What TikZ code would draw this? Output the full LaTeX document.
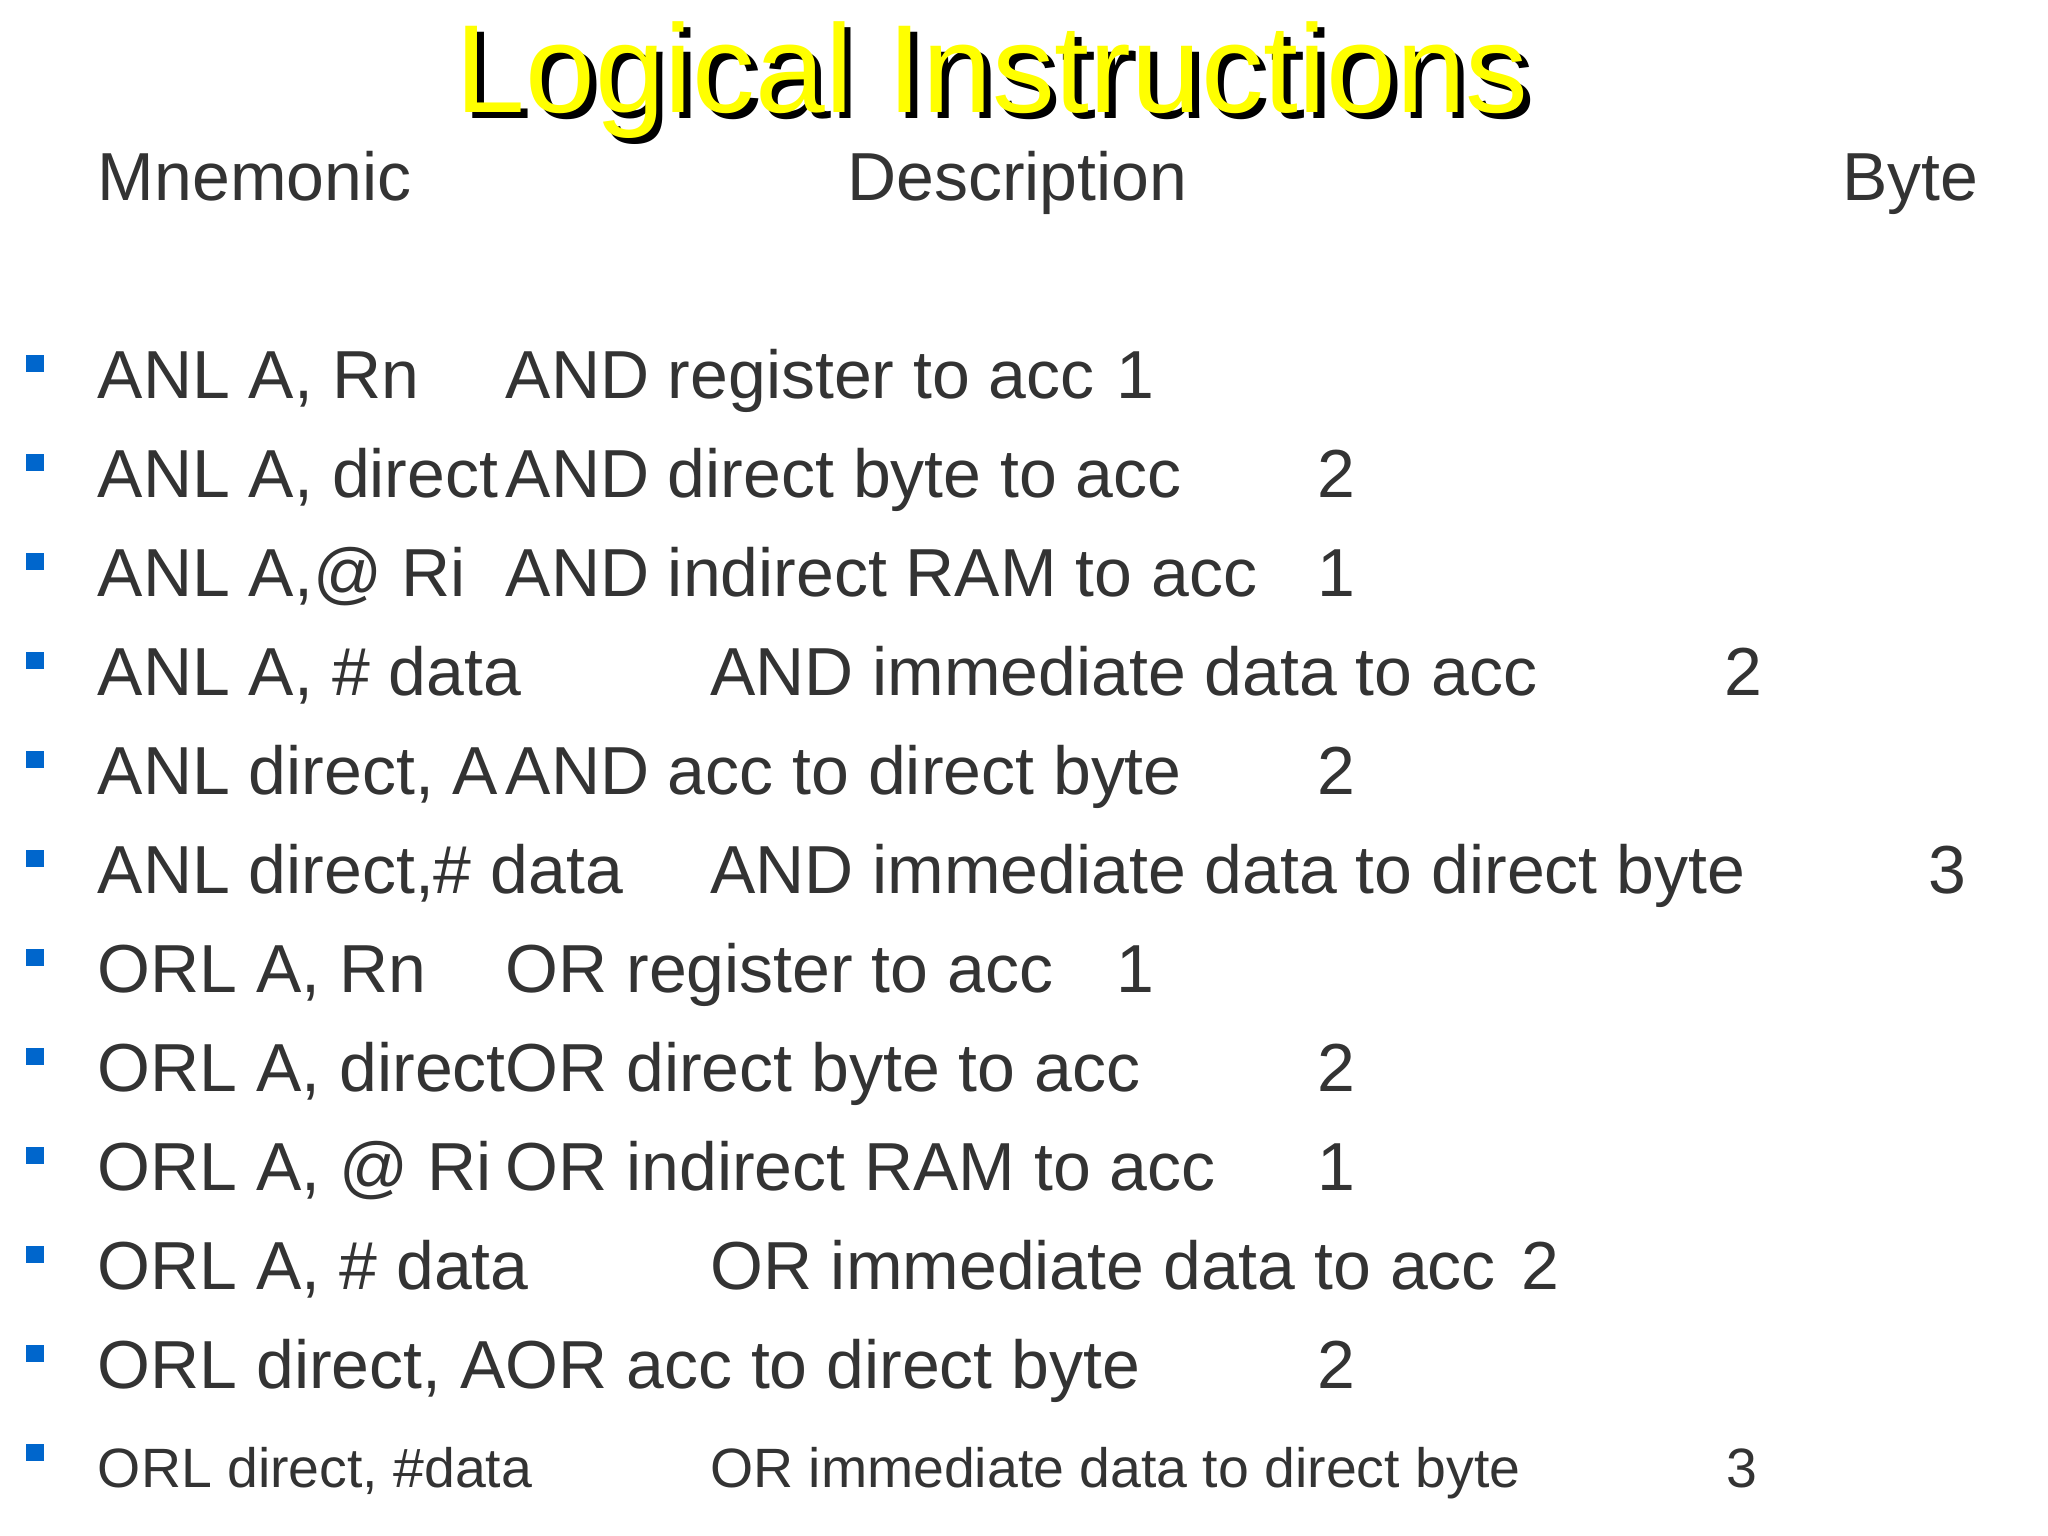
\documentclass[tikz,border=0pt]{standalone}
\usepackage{fontspec}
\setmainfont{Liberation Sans}
\definecolor{txt}{RGB}{51,51,51}
\definecolor{bul}{RGB}{0,102,204}
\definecolor{ttl}{RGB}{255,255,0}
\tikzset{
  row/.style={anchor=base west,inner sep=0pt,text=txt,font=\fontsize{51.5}{51.5}\selectfont},
  small/.style={anchor=base west,inner sep=0pt,text=txt,font=\fontsize{42}{42}\selectfont},
  bulletsq/.style={fill=bul,draw=none}
}
\begin{document}
\begin{tikzpicture}[x=1pt,y=1pt,yscale=-1,xscale=1]
\useasboundingbox (0,0) rectangle (1552,1164);

% Title
\node (shadow) [anchor=base,inner sep=0pt,font=\fontsize{95}{95}\selectfont] at (757,90) {Logical Instructions};
\node (title) [anchor=base,inner sep=0pt,text=ttl,font=\fontsize{95}{95}\selectfont] at (752,85) {Logical Instructions};

% Header
\node (hmn) [row] at (74,152) {Mnemonic};
\node (hds) [row] at (642,152) {Description};
\node (hby) [row] at (1396,152) {Byte};

% Bullets
\foreach \y in {302,377,452,527,602,677,752,827,902,977,1052,1127}
  \fill[bulletsq] (20,\y-33) rectangle (33,\y-20);

% Rows
\node (m1) [row] at (74,302) {ANL A, Rn};
\node (d1) [row] at (383,302) {AND register to acc};
\node (b1) [row] at (846,302) {1};
\node (m2) [row] at (74,377) {ANL A, direct};
\node (d2) [row] at (383,377) {AND direct byte to acc};
\node (b2) [row] at (998,377) {2};
\node (m3) [row] at (74,452) {ANL A,@ Ri};
\node (d3) [row] at (383,452) {AND indirect RAM to acc};
\node (b3) [row] at (998,452) {1};
\node (m4) [row] at (74,527) {ANL A, \# data};
\node (d4) [row] at (538,527) {AND immediate data to acc};
\node (b4) [row] at (1307,527) {2};
\node (m5) [row] at (74,602) {ANL direct, A};
\node (d5) [row] at (383,602) {AND acc to direct byte};
\node (b5) [row] at (998,602) {2};
\node (m6) [row] at (74,677) {ANL direct,\# data};
\node (d6) [row] at (538,677) {AND immediate data to direct byte};
\node (b6) [row] at (1461,677) {3};
\node (m7) [row] at (74,752) {ORL A, Rn};
\node (d7) [row] at (383,752) {OR register to acc};
\node (b7) [row] at (846,752) {1};
\node (m8) [row] at (74,827) {ORL A, direct};
\node (d8) [row] at (383,827) {OR direct byte to acc};
\node (b8) [row] at (998,827) {2};
\node (m9) [row] at (74,902) {ORL A, @ Ri};
\node (d9) [row] at (383,902) {OR indirect RAM to acc};
\node (b9) [row] at (998,902) {1};
\node (m10) [row] at (74,977) {ORL A, \# data};
\node (d10) [row] at (538,977) {OR immediate data to acc};
\node (b10) [row] at (1153,977) {2};
\node (m11) [row] at (74,1052) {ORL direct, A};
\node (d11) [row] at (383,1052) {OR acc to direct byte};
\node (b11) [row] at (998,1052) {2};
\node (m12) [small] at (74,1127) {ORL direct, \#data};
\node (d12) [small] at (538,1127) {OR immediate data to direct byte};
\node (b12) [small] at (1308,1127) {3};

\end{tikzpicture}
\end{document}
